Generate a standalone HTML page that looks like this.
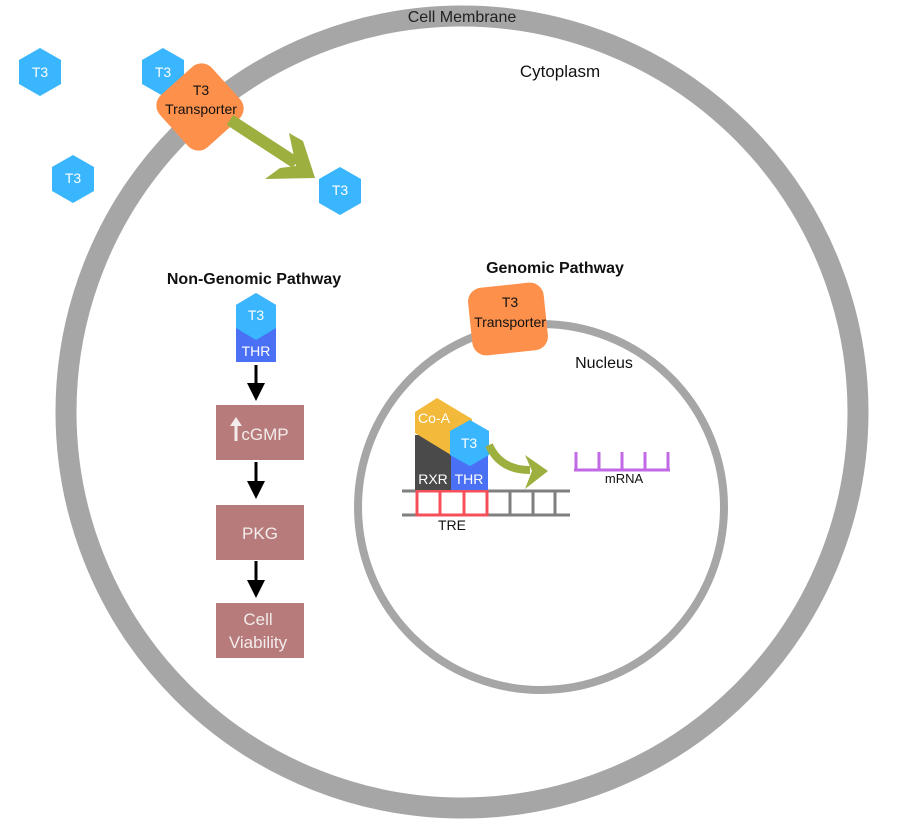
<!DOCTYPE html>
<html><head><meta charset="utf-8"><style>
html,body{margin:0;padding:0;background:#fff;}
text{font-family:"Liberation Sans",sans-serif;}
</style></head><body>
<svg width="900" height="825" viewBox="0 0 900 825" xmlns="http://www.w3.org/2000/svg">
<defs>
<marker id="ah" markerWidth="6" markerHeight="6" refX="3" refY="3" orient="auto" markerUnits="strokeWidth"><path d="M0,0 L6,3 L0,6 z" fill="#000"/></marker>
</defs>
<circle cx="462" cy="412" r="396" fill="none" stroke="#a6a6a6" stroke-width="21"/>
<text x="462" y="22" font-size="16" text-anchor="middle" fill="#222">Cell Membrane</text>
<text x="560" y="77" font-size="17" text-anchor="middle" fill="#111">Cytoplasm</text>
<circle cx="541" cy="507" r="183" fill="none" stroke="#a6a6a6" stroke-width="8"/>
<text x="604" y="368" font-size="16" text-anchor="middle" fill="#111">Nucleus</text>

<g font-size="14" fill="#fff" text-anchor="middle">
<polygon points="40,48 61,60 61,84 40,96 19,84 19,60" fill="#39b6fe"/><text x="40" y="77">T3</text>
<polygon points="163,48 184,60 184,84 163,96 142,84 142,60" fill="#39b6fe"/><text x="163" y="77">T3</text>
<polygon points="73,155 94,167 94,191 73,203 52,191 52,167" fill="#39b6fe"/><text x="73" y="183">T3</text>
<polygon points="340,167 361,179 361,203 340,215 319,203 319,179" fill="#39b6fe"/><text x="340" y="195">T3</text>
</g>
<rect x="165" y="72" width="70" height="70" rx="14" fill="#fd914b" transform="rotate(-42 200 107)"/>
<text x="201" y="95" font-size="14" text-anchor="middle" fill="#111">T3</text>
<text x="201" y="114" font-size="14" text-anchor="middle" fill="#111">Transporter</text>
<line x1="230" y1="120" x2="296" y2="163" stroke="#9caf3f" stroke-width="12"/>
<polygon points="289,133 303,141 315,178 265,179 280,168 296,166" fill="#9caf3f"/>

<text x="254" y="284" font-size="16" font-weight="bold" text-anchor="middle" fill="#111">Non-Genomic Pathway</text>
<polygon points="236,305 256,293 276,305 276,362 236,362" fill="#4a70f6"/>
<polygon points="236,305 256,293 276,305 276,328 256,340 236,328" fill="#39b6fe"/>
<text x="256" y="320" font-size="14" fill="#fff" text-anchor="middle">T3</text>
<text x="256" y="356" font-size="14" fill="#fff" text-anchor="middle">THR</text>
<g stroke="#000" stroke-width="3">
<line x1="256" y1="365" x2="256" y2="392" marker-end="url(#ah)"/>
<line x1="256" y1="462" x2="256" y2="490" marker-end="url(#ah)"/>
<line x1="256" y1="561" x2="256" y2="589" marker-end="url(#ah)"/>
</g>
<g fill="#b77b7b">
<rect x="216" y="405" width="88" height="55"/>
<rect x="216" y="505" width="88" height="55"/>
<rect x="216" y="603" width="88" height="55"/>
</g>
<g fill="#f3ecec" font-size="17" text-anchor="middle">
<text x="265" y="440">cGMP</text>
<text x="260" y="539">PKG</text>
<text x="258" y="625">Cell</text>
<text x="258" y="648">Viability</text>
</g>
<line x1="236" y1="441" x2="236" y2="424" stroke="#f3ecec" stroke-width="3"/>
<polygon points="230,426 236,417 242,426" fill="#f3ecec"/>

<text x="555" y="273" font-size="16" font-weight="bold" text-anchor="middle" fill="#111">Genomic Pathway</text>
<rect x="470" y="285" width="76" height="68" rx="14" fill="#fd914b" transform="rotate(-6 508 319)"/>
<text x="510" y="307" font-size="14" text-anchor="middle" fill="#111">T3</text>
<text x="510" y="327" font-size="14" text-anchor="middle" fill="#111">Transporter</text>

<g stroke="#7f7f7f" stroke-width="3">
<line x1="402" y1="491" x2="570" y2="491"/>
<line x1="402" y1="515" x2="570" y2="515"/>
<line x1="510" y1="491" x2="510" y2="515"/>
<line x1="533" y1="491" x2="533" y2="515"/>
<line x1="555" y1="491" x2="555" y2="515"/>
</g>
<g stroke="#f5505a" stroke-width="3" fill="none">
<rect x="417" y="491" width="70" height="24"/>
<line x1="440" y1="491" x2="440" y2="515"/>
<line x1="464" y1="491" x2="464" y2="515"/>
</g>
<text x="452" y="530" font-size="14" text-anchor="middle" fill="#111">TRE</text>
<rect x="415" y="435" width="36" height="55" fill="#4a4a4a"/>
<rect x="451" y="455" width="37" height="35" fill="#4a70f6"/>
<polygon points="415,412 437,398 472,419 472,455 451,455 415,433" fill="#f2b93a"/>
<polygon points="470,420 489,431 489,455 470,466 450,455 450,431" fill="#39b6fe"/>
<text x="434" y="423" font-size="14" fill="#fff" text-anchor="middle">Co-A</text>
<text x="469" y="448" font-size="14" fill="#fff" text-anchor="middle">T3</text>
<text x="433" y="484" font-size="14" fill="#fff" text-anchor="middle">RXR</text>
<text x="469" y="484" font-size="14" fill="#fff" text-anchor="middle">THR</text>
<path d="M489,445 Q500,470 530,470" fill="none" stroke="#9caf3f" stroke-width="8"/>
<polygon points="525,455 548,471 525,489 532,471" fill="#9caf3f"/>
<g stroke="#c26ae6" stroke-width="3">
<line x1="574" y1="470" x2="670" y2="470"/>
<line x1="576" y1="452" x2="576" y2="470"/>
<line x1="599" y1="452" x2="599" y2="470"/>
<line x1="622" y1="452" x2="622" y2="470"/>
<line x1="645" y1="452" x2="645" y2="470"/>
<line x1="668" y1="452" x2="668" y2="470"/>
</g>
<text x="624" y="483" font-size="13" text-anchor="middle" fill="#111">mRNA</text>
</svg>
</body></html>
